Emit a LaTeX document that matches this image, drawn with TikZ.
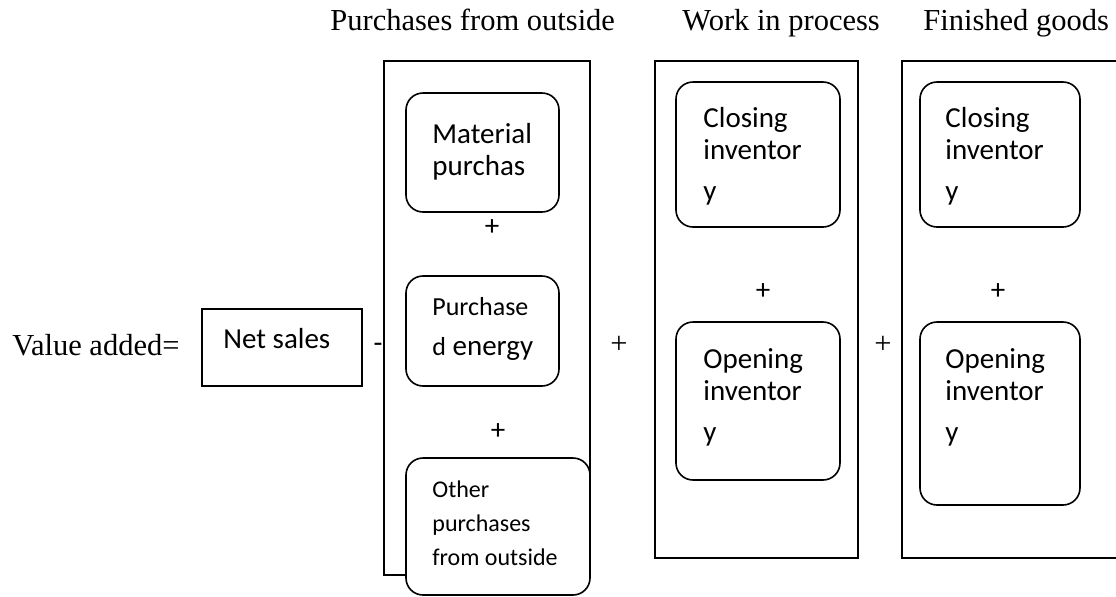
\documentclass[tikz,border=0pt]{standalone}
\usepackage{fontspec}
\setmainfont{Liberation Serif}
\newfontfamily\calibri{Carlito}

\begin{document}
\begin{tikzpicture}[x=0.5pt, y=-0.5pt,
    frame/.style={draw, line width=0.8pt},
    item/.style={draw, fill=white, rounded corners=8.5pt, line width=0.8pt},
    txt/.style={anchor=base west, inner sep=0pt, align=left},
    serif/.style={font=\fontsize{15.25}{18}\selectfont},
    big/.style={font=\calibri\fontsize{14.5}{16}\selectfont},
    small/.style={font=\calibri\fontsize{12}{17}\selectfont}]
    \clip (0,0) rectangle (1116,596);

    % groups
    \draw [frame] (384,61)  rectangle (590,575);
    \draw [frame] (655,61)  rectangle (858,558);
    \draw [frame] (902,61)  rectangle (1130,558);
    \draw [frame] (202,309) rectangle (362,386);

    % items
    \draw [item] (406,93)  rectangle (559,212);
    \draw [item] (406,276) rectangle (559,386);
    \draw [item] (406,458) rectangle (590,595);
    \draw [item] (676,82)  rectangle (840,227);
    \draw [item] (676,322) rectangle (840,480);
    \draw [item] (920,82)  rectangle (1080,227);
    \draw [item] (920,322) rectangle (1080,505);

    % headings
    \node [txt, serif] (pfo) at (330,30) {Purchases from outside};
    \node [txt, serif] (wip) at (682,30) {Work in process};
    \node [txt, serif] (fg)  at (923,30) {Finished goods};

    \node [txt, serif] (va) at (12,355)  {Value added=};
    \node [txt, big]   (ns) at (223,348) {Net sales};

    % base = last line
    \node [txt, big]   (mat)    at (432,175) {Material\\purchas};
    \node [txt, big]   (energy) at (432,355) {{\fontsize{13}{16}\selectfont Purchase}\\[4pt]{\fontsize{13}{16}\selectfont d} energy};
    \node [txt, small] (other)  at (432,565) {Other\\purchases\\from outside};

    \node [txt, big] (wipclose) at (703,200) {Closing\\inventor\\[4.5pt]y};
    \node [txt, big] (wipopen)  at (703,441) {Opening\\inventor\\[4.5pt]y};
    \node [txt, big] (fgclose)  at (945,200) {Closing\\inventor\\[4.5pt]y};
    \node [txt, big] (fgopen)   at (945,441) {Opening\\inventor\\[4.5pt]y};

    % signs
    \node [big]   (minus) at (378,348) {-};
    \node [big]   (plus1) at (492,228) {+};
    \node [big]   (plus2) at (498,432) {+};
    \node [serif] (plus3) at (619,345) {+};
    \node [big]   (plus4) at (763,292) {+};
    \node [serif] (plus5) at (883,345) {+};
    \node [big]   (plus6) at (998,292) {+};
\end{tikzpicture}
\end{document}
